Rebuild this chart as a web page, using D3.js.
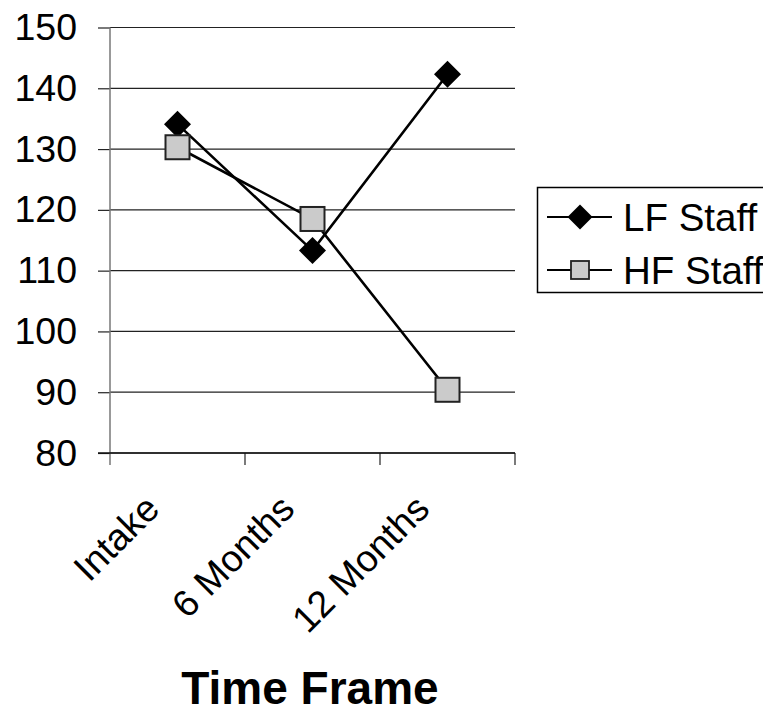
<!DOCTYPE html>
<html>
<head>
<meta charset="utf-8">
<script src="https://cdn.jsdelivr.net/npm/d3@7"></script>
<style>
  body { margin: 0; background: #fff; }
  svg { display: block; font-family: "Liberation Sans", Arial, sans-serif; }
</style>
</head>
<body>
<script>
const width = 763;
const height = 713;

const categories = ["Intake", "6 Months", "12 Months"];
const lfStaff = [134.1, 113.3, 142.3];
const hfStaff = [130.3, 118.5, 90.4];
const yTicks = [80, 90, 100, 110, 120, 130, 140, 150];
const seriesNames = ["LF Staff", "HF Staff"];

const plot = { left: 110, right: 515, top: 27.5, bottom: 453 };

const svg = d3.select('body').append('svg')
  .attr('width', width)
  .attr('height', height);

const x = d3.scaleBand()
  .domain(categories)
  .range([plot.left, plot.right])
  .padding(0);

const y = d3.scaleLinear()
  .domain([80, 150])
  .range([plot.bottom, plot.top]);

const cx = d => x(d) + x.bandwidth() / 2;

// horizontal gridlines
svg.append('g')
  .selectAll('line')
  .data(yTicks)
  .join('line')
  .attr('x1', plot.left)
  .attr('x2', plot.right)
  .attr('y1', d => y(d))
  .attr('y2', d => y(d))
  .attr('stroke', '#222')
  .attr('stroke-width', 1.2);

// y axis
const yAxis = svg.append('g')
  .attr('transform', `translate(${plot.left},0)`)
  .call(d3.axisLeft(y).tickValues(yTicks).tickSize(12).tickPadding(21).tickFormat(d3.format('d')));
yAxis.select('.domain').remove();
yAxis.selectAll('.tick line').attr('stroke', '#222').attr('stroke-width', 1.2);
yAxis.selectAll('.tick text')
  .attr('font-size', 37.5)
  .attr('font-family', '"Liberation Sans", Arial, sans-serif')
  .attr('fill', '#000');

svg.append('line')
  .attr('x1', plot.left).attr('x2', plot.left)
  .attr('y1', plot.top).attr('y2', plot.bottom + 12)
  .attr('stroke', '#777')
  .attr('stroke-width', 1.5);

// x axis ticks at category boundaries
const xBounds = categories.map(c => x(c)).concat([plot.right]);
svg.append('g')
  .selectAll('line')
  .data(xBounds.slice(1))
  .join('line')
  .attr('x1', d => d).attr('x2', d => d)
  .attr('y1', plot.bottom).attr('y2', plot.bottom + 12)
  .attr('stroke', '#222')
  .attr('stroke-width', 1.2);

svg.append('line')
  .attr('x1', plot.left - 12).attr('x2', plot.right)
  .attr('y1', plot.bottom).attr('y2', plot.bottom)
  .attr('stroke', '#111')
  .attr('stroke-width', 1.3);

svg.append('g')
  .selectAll('text')
  .data(categories)
  .join('text')
  .attr('transform', d => `translate(${cx(d) - 16},${plot.bottom + 58}) rotate(-45)`)
  .attr('text-anchor', 'end')
  .attr('font-size', 37.5)
  .text(d => d);

svg.append('text')
  .attr('x', 310)
  .attr('y', 704)
  .attr('text-anchor', 'middle')
  .attr('font-size', 46)
  .attr('font-weight', 'bold')
  .text('Time Frame');

// lines
const line = d3.line()
  .x((d, i) => cx(categories[i]))
  .y(d => y(d));

[lfStaff, hfStaff].forEach(s => {
  svg.append('path')
    .datum(s)
    .attr('d', line)
    .attr('fill', 'none')
    .attr('stroke', '#000')
    .attr('stroke-width', 2.6);
});

// markers
const diamond = r => `M0,${-r}L${r},0L0,${r}L${-r},0Z`;

svg.append('g')
  .selectAll('path')
  .data(lfStaff)
  .join('path')
  .attr('transform', (d, i) => `translate(${cx(categories[i])},${y(d)})`)
  .attr('d', diamond(13.5))
  .attr('fill', '#000');

svg.append('g')
  .selectAll('rect')
  .data(hfStaff)
  .join('rect')
  .attr('x', (d, i) => cx(categories[i]) - 12)
  .attr('y', d => y(d) - 12)
  .attr('width', 24)
  .attr('height', 24)
  .attr('fill', '#cbcbcb')
  .attr('stroke', '#222')
  .attr('stroke-width', 2);

// legend
const legend = svg.append('g');
legend.append('rect')
  .attr('x', 537.5).attr('y', 187.5)
  .attr('width', 240).attr('height', 105)
  .attr('fill', '#fff')
  .attr('stroke', '#000')
  .attr('stroke-width', 1.5);

const legendRows = [217, 270];
seriesNames.forEach((name, i) => {
  const ly = legendRows[i];
  legend.append('line')
    .attr('x1', 547).attr('x2', 612)
    .attr('y1', ly).attr('y2', ly)
    .attr('stroke', '#000')
    .attr('stroke-width', 1.8);
  if (i === 0) {
    legend.append('path')
      .attr('transform', `translate(580,${ly})`)
      .attr('d', diamond(12.5))
      .attr('fill', '#000');
  } else {
    legend.append('rect')
      .attr('x', 571).attr('y', ly - 9)
      .attr('width', 18).attr('height', 18)
      .attr('fill', '#cbcbcb')
      .attr('stroke', '#222')
      .attr('stroke-width', 1.8);
  }
  legend.append('text')
    .attr('x', 623)
    .attr('y', ly)
    .attr('dy', '0.36em')
    .attr('font-size', 38.5)
    .text(name);
});
</script>
</body>
</html>
